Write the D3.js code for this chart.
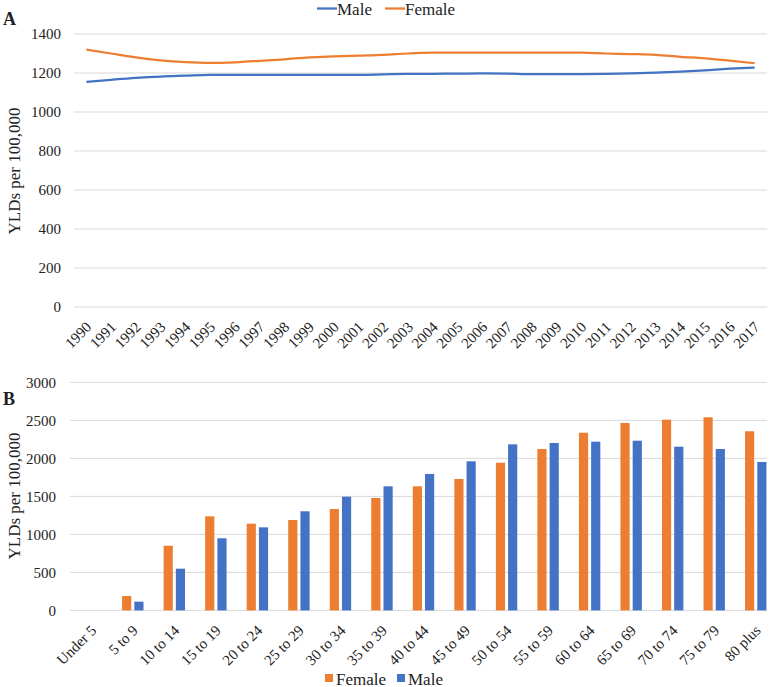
<!DOCTYPE html>
<html><head><meta charset="utf-8">
<script src="https://cdn.jsdelivr.net/npm/d3@7"></script>
</head>
<body style="margin:0;padding:0;background:#fff;"><svg id="c" width="778" height="687" style="display:block;"></svg>
<script>
const years = ["1990","1991","1992","1993","1994","1995","1996","1997","1998","1999","2000","2001","2002","2003","2004","2005","2006","2007","2008","2009","2010","2011","2012","2013","2014","2015","2016","2017"];
const maleTrend = [1154,1165,1175,1182,1186,1190,1191,1191,1191,1191,1191,1191,1193,1195,1196,1197,1198,1197,1194,1194,1194,1195,1198,1202,1207,1214,1222,1228];
const femaleTrend = [1320,1300,1280,1265,1256,1252,1255,1262,1270,1280,1285,1289,1293,1300,1304,1305,1305,1305,1305,1305,1304,1300,1297,1293,1283,1275,1263,1250];
const topTicks = [0,200,400,600,800,1000,1200,1400];

const ageGroups = ["Under 5","5 to 9","10 to 14","15 to 19","20 to 24","25 to 29","30 to 34","35 to 39","40 to 44","45 to 49","50 to 54","55 to 59","60 to 64","65 to 69","70 to 74","75 to 79","80 plus"];
const femaleByAge = [0,189,851,1238,1141,1189,1334,1479,1633,1729,1943,2124,2338,2466,2509,2541,2357];
const maleByAge = [0,115,549,949,1093,1304,1496,1633,1795,1962,2185,2203,2220,2233,2154,2124,1953];
const bottomTicks = [0,500,1000,1500,2000,2500,3000];

const MALE = "#4472C4", FEMALE = "#ED7D31", GRID = "#d9d9d9", TXT = "#222";
const FONT = "Times New Roman";
const svg = d3.select("#c");
function txt(g){ return g.append("text").attr("font-family",FONT).attr("fill",TXT); }

// ---------- Panel A ----------
const xA = d3.scalePoint().domain(years).range([74,767]).padding(0.5);
const yA = d3.scaleLinear().domain([0,1400]).range([307,34]);
const gA = svg.append("g");
gA.selectAll("line.grid").data(topTicks).join("line")
  .attr("x1",74).attr("x2",767).attr("y1",d=>yA(d)).attr("y2",d=>yA(d))
  .attr("stroke",GRID).attr("stroke-width",1);
topTicks.forEach(d=>{
  txt(gA).attr("x",61).attr("y",yA(d)).attr("dy","0.35em").attr("text-anchor","end").attr("font-size",15).text(d);
});
years.forEach(d=>{
  txt(gA).attr("text-anchor","end").attr("font-size",15)
    .attr("transform",`translate(${xA(d)+6},${yA(0)+21}) rotate(-45)`).text(d);
});
const lineA = (vals)=>d3.line().x((d,i)=>xA(years[i])).y(d=>yA(d)).curve(d3.curveMonotoneX)(vals);
gA.append("path").attr("d",lineA(femaleTrend)).attr("fill","none").attr("stroke",FEMALE).attr("stroke-width",2.25);
gA.append("path").attr("d",lineA(maleTrend)).attr("fill","none").attr("stroke",MALE).attr("stroke-width",2.25);
txt(gA).attr("transform","translate(20,171) rotate(-90)").attr("text-anchor","middle").attr("font-size",17).text("YLDs per 100,000");
txt(gA).attr("x",3).attr("y",25).attr("font-size",18).attr("font-weight","bold").text("A");
const legA = [{k:"Male",c:MALE,x:317},{k:"Female",c:FEMALE,x:385}];
legA.forEach(l=>{
  gA.append("line").attr("x1",l.x).attr("x2",l.x+20).attr("y1",8.5).attr("y2",8.5).attr("stroke",l.c).attr("stroke-width",2.25);
  txt(gA).attr("x",l.x+20).attr("y",14.5).attr("font-size",17).text(l.k);
});

// ---------- Panel B ----------
const xB = d3.scaleBand().domain(ageGroups).range([70.5,776.5]).paddingInner(0);
const x1 = d3.scaleBand().domain(["Female","Male"]).range([-10.7,10.7]).paddingInner(0.25);
const yB = d3.scaleLinear().domain([0,3000]).range([610.4,382.4]);
const gB = svg.append("g");
gB.selectAll("line.grid").data(bottomTicks).join("line")
  .attr("x1",70).attr("x2",767).attr("y1",d=>yB(d)).attr("y2",d=>yB(d))
  .attr("stroke",GRID).attr("stroke-width",1);
bottomTicks.forEach(d=>{
  txt(gB).attr("x",56).attr("y",yB(d)).attr("dy","0.35em").attr("text-anchor","end").attr("font-size",15).text(d);
});
const series = [{k:"Female",v:femaleByAge,c:FEMALE},{k:"Male",v:maleByAge,c:MALE}];
series.forEach(s=>{
  gB.selectAll(null).data(ageGroups).join("rect")
    .attr("x",(d)=>xB(d)+xB.bandwidth()/2+x1(s.k))
    .attr("width",x1.bandwidth())
    .attr("y",(d,i)=>yB(s.v[i]))
    .attr("height",(d,i)=>yB(0)-yB(s.v[i]))
    .attr("fill",s.c);
});
ageGroups.forEach(d=>{
  txt(gB).attr("text-anchor","end").attr("font-size",15)
    .attr("transform",`translate(${xB(d)+xB.bandwidth()/2+6},${yB(0)+21}) rotate(-45)`).text(d);
});
txt(gB).attr("transform","translate(20,496) rotate(-90)").attr("text-anchor","middle").attr("font-size",17).text("YLDs per 100,000");
txt(gB).attr("x",3).attr("y",405).attr("font-size",18).attr("font-weight","bold").text("B");
const legB = [{k:"Female",c:FEMALE,x:325},{k:"Male",c:MALE,x:397}];
legB.forEach(l=>{
  gB.append("rect").attr("x",l.x).attr("y",674).attr("width",8).attr("height",8).attr("fill",l.c);
  txt(gB).attr("x",l.x+11).attr("y",684.5).attr("font-size",17).text(l.k);
});
</script></body></html>
